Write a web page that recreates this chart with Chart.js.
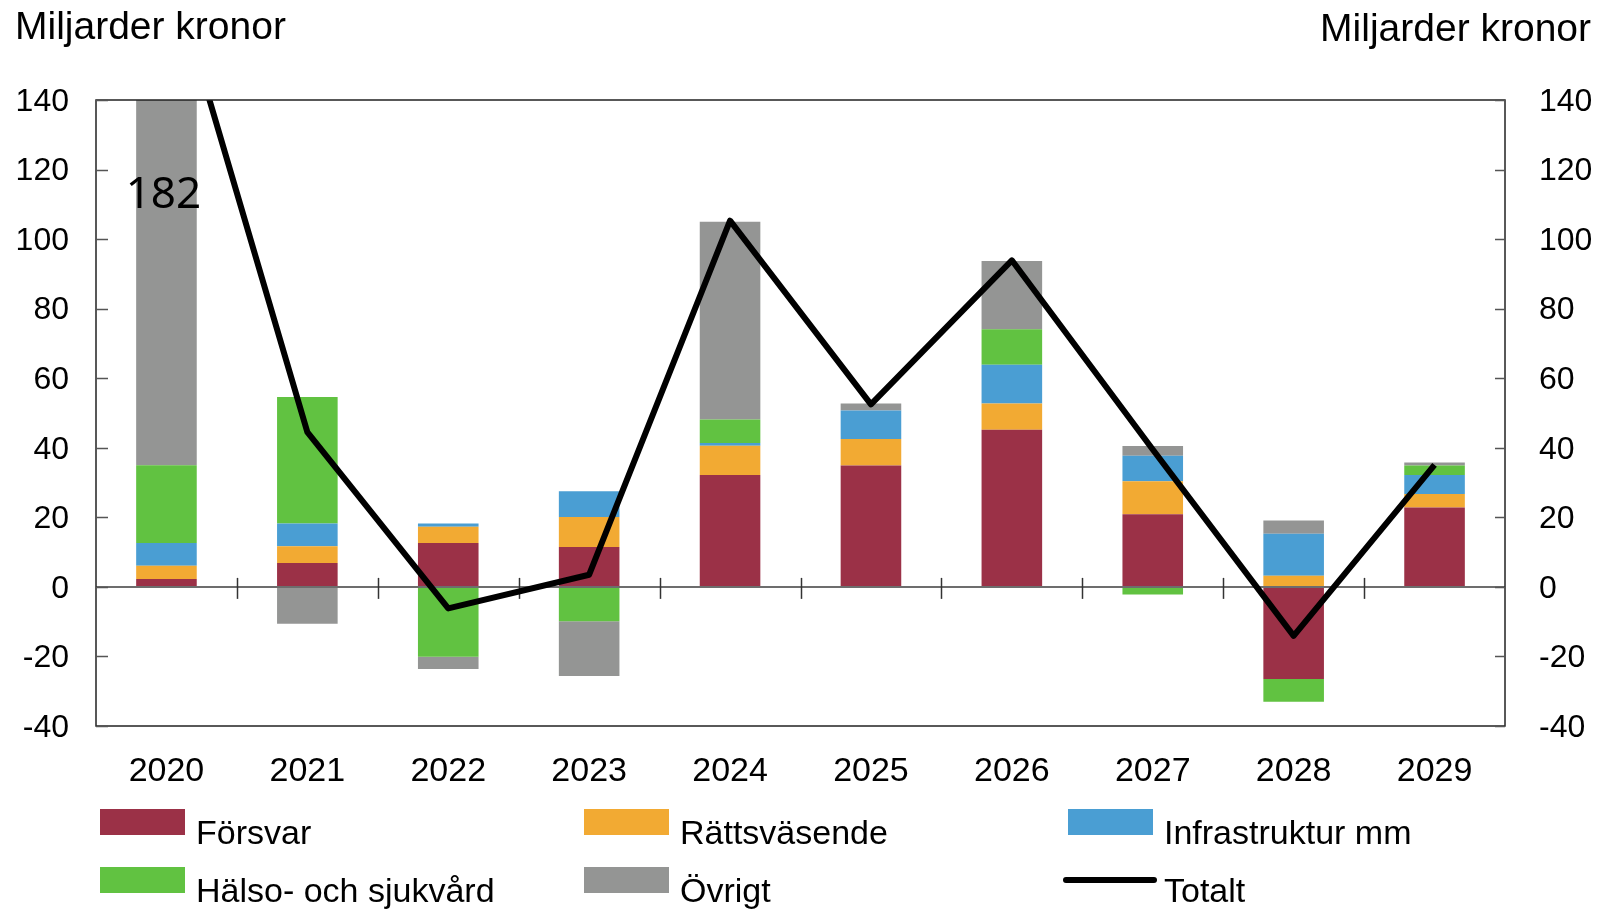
<!DOCTYPE html>
<html>
<head>
<meta charset="utf-8">
<script src="https://cdn.jsdelivr.net/npm/chart.js@4.4.1/dist/chart.umd.min.js"></script>
<style>
  html, body { margin: 0; padding: 0; background: #fff; }
</style>
</head>
<body>
<canvas id="chart" width="1603" height="909"></canvas>
<script>
// Data (miljarder kronor)
const years = ['2020', '2021', '2022', '2023', '2024', '2025', '2026', '2027', '2028', '2029'];
const forsvar = [2.3, 6.9, 12.6, 11.5, 32.2, 34.9, 45.2, 20.9, -26.5, 22.8];
const rattsvasende = [3.8, 4.8, 4.7, 8.6, 8.4, 7.6, 7.5, 9.5, 3.2, 3.9];
const infrastruktur = [6.5, 6.5, 0.9, 7.4, 0.8, 8.2, 11.2, 7.3, 12.1, 5.5];
const halsoSjukvard = [22.4, 36.4, -20.1, -9.9, 6.7, 0, 10.2, -2.2, -6.5, 2.7];
const ovrigt = [147, -10.6, -3.5, -15.7, 56.9, 2.0, 19.6, 2.8, 3.8, 0.9];
const totalt = [182, 44.5, -6.2, 3.5, 105.3, 52.5, 93.9, 39.5, -14.1, 35.1];
const yTicks = [-40, -20, 0, 20, 40, 60, 80, 100, 120, 140];
const axisTitle = 'Miljarder kronor';

const FONT = '"Liberation Sans", Arial, sans-serif';

// Frame, zero line, inside ticks, titles and legend
const decorations = {
  id: 'decorations',
  beforeDatasetDraw(chart, args) {
    if (chart.data.datasets[args.index].type !== 'line') return;
    const { ctx, chartArea, scales } = chart;
    const zeroY = scales.y.getPixelForValue(0);
    ctx.save();
    ctx.strokeStyle = '#6d6d6d';
    ctx.lineWidth = 2;
    ctx.beginPath();
    ctx.moveTo(chartArea.left, zeroY);
    ctx.lineTo(chartArea.right, zeroY);
    ctx.stroke();
    // category tick marks across the zero line
    const catW = scales.x.getPixelForValue(1) - scales.x.getPixelForValue(0);
    ctx.strokeStyle = '#333';
    ctx.lineWidth = 1.5;
    for (let i = 1; i < years.length; i++) {
      const x = Math.round(chartArea.left + i * catW) + 0.5;
      ctx.beginPath();
      ctx.moveTo(x, zeroY - 9);
      ctx.lineTo(x, zeroY + 12);
      ctx.stroke();
    }
    ctx.restore();
  },
  afterDraw(chart) {
    const { ctx, chartArea, scales } = chart;
    ctx.save();

    // plot frame
    ctx.strokeStyle = '#222';
    ctx.lineWidth = 1.5;
    ctx.strokeRect(chartArea.left, chartArea.top, chartArea.right - chartArea.left, chartArea.bottom - chartArea.top);

    // inside tick marks on both value axes
    ctx.strokeStyle = '#555';
    ctx.lineWidth = 1.5;
    yTicks.forEach((v) => {
      const y = Math.round(scales.y.getPixelForValue(v)) + 0.5;
      ctx.beginPath();
      ctx.moveTo(chartArea.left, y);
      ctx.lineTo(chartArea.left + 12, y);
      ctx.moveTo(chartArea.right - 10, y);
      ctx.lineTo(chartArea.right, y);
      ctx.stroke();
    });

    // axis titles
    ctx.fillStyle = '#000';
    ctx.font = '39px ' + FONT;
    ctx.textBaseline = 'alphabetic';
    ctx.textAlign = 'left';
    ctx.fillText(axisTitle, 15, 39);
    ctx.textAlign = 'right';
    ctx.fillText(axisTitle, 1591, 41);

    // value of the clipped 2020 total
    ctx.font = '44px "Noto Sans", sans-serif';
    ctx.textAlign = 'center';
    ctx.fillText(String(totalt[0]), scales.x.getPixelForValue(0) - 3, scales.y.getPixelForValue(109));

    // legend in a 3-column grid
    ctx.font = '34px ' + FONT;
    ctx.textAlign = 'left';
    const colX = [100, 584, 1068];
    const rowY = [809, 867];
    chart.data.datasets.forEach((ds, i) => {
      const x = colX[i % 3];
      const y = rowY[Math.floor(i / 3)];
      if (ds.type === 'line') {
        ctx.strokeStyle = ds.borderColor;
        ctx.lineWidth = 6;
        ctx.lineCap = 'round';
        ctx.beginPath();
        ctx.moveTo(x - 2, y + 13);
        ctx.lineTo(x + 86, y + 13);
        ctx.stroke();
      } else {
        ctx.fillStyle = ds.backgroundColor;
        ctx.fillRect(x, y, 85, 26);
      }
      ctx.fillStyle = '#000';
      ctx.fillText(ds.label, x + 96, y + 35);
    });

    ctx.restore();
  },
};

const ctx = document.getElementById('chart').getContext('2d');

new Chart(ctx, {
  type: 'bar',
  data: {
    labels: years,
    datasets: [
      { label: 'Försvar', data: forsvar, backgroundColor: '#9b3147', stack: 'delar', order: 1 },
      { label: 'Rättsväsende', data: rattsvasende, backgroundColor: '#f2aa33', stack: 'delar', order: 1 },
      { label: 'Infrastruktur mm', data: infrastruktur, backgroundColor: '#4a9ed3', stack: 'delar', order: 1 },
      { label: 'Hälso- och sjukvård', data: halsoSjukvard, backgroundColor: '#61c241', stack: 'delar', order: 1 },
      { label: 'Övrigt', data: ovrigt, backgroundColor: '#949594', stack: 'delar', order: 1 },
      {
        type: 'line',
        label: 'Totalt',
        data: totalt,
        borderColor: '#000',
        backgroundColor: '#000',
        borderWidth: 6,
        borderJoinStyle: 'round',
        pointRadius: 0,
        stack: 'totalt',
        order: 0,
      },
    ],
  },
  options: {
    responsive: false,
    animation: false,
    devicePixelRatio: 1,
    layout: { padding: { top: 100, left: 0, right: 0, bottom: 0 } },
    datasets: {
      bar: { categoryPercentage: 1, barPercentage: 0.43 },
    },
    scales: {
      x: {
        stacked: true,
        grid: { display: false, drawTicks: false },
        border: { display: false },
        ticks: {
          color: '#000',
          font: { family: FONT, size: 34 },
          padding: 25,
          maxRotation: 0,
          autoSkip: false,
        },
        afterFit: (scale) => { scale.height = 183; },
      },
      y: {
        stacked: true,
        position: 'left',
        min: -40,
        max: 140,
        afterBuildTicks: (scale) => { scale.ticks = yTicks.map((v) => ({ value: v })); },
        grid: { display: false, drawTicks: false },
        border: { display: false },
        ticks: {
          color: '#000',
          font: { family: FONT, size: 32 },
          padding: 27,
          labelOffset: 2,
          callback: (v) => String(v),
        },
        afterFit: (scale) => { scale.width = 96; },
      },
      y1: {
        position: 'right',
        min: -40,
        max: 140,
        afterBuildTicks: (scale) => { scale.ticks = yTicks.map((v) => ({ value: v })); },
        grid: { display: false, drawTicks: false },
        border: { display: false },
        ticks: {
          color: '#000',
          font: { family: FONT, size: 32 },
          padding: 34,
          labelOffset: 2,
          callback: (v) => String(v),
        },
        afterFit: (scale) => { scale.width = 98; },
      },
    },
    plugins: {
      legend: { display: false },
      tooltip: { enabled: false },
    },
  },
  plugins: [decorations],
});
</script>
</body>
</html>
